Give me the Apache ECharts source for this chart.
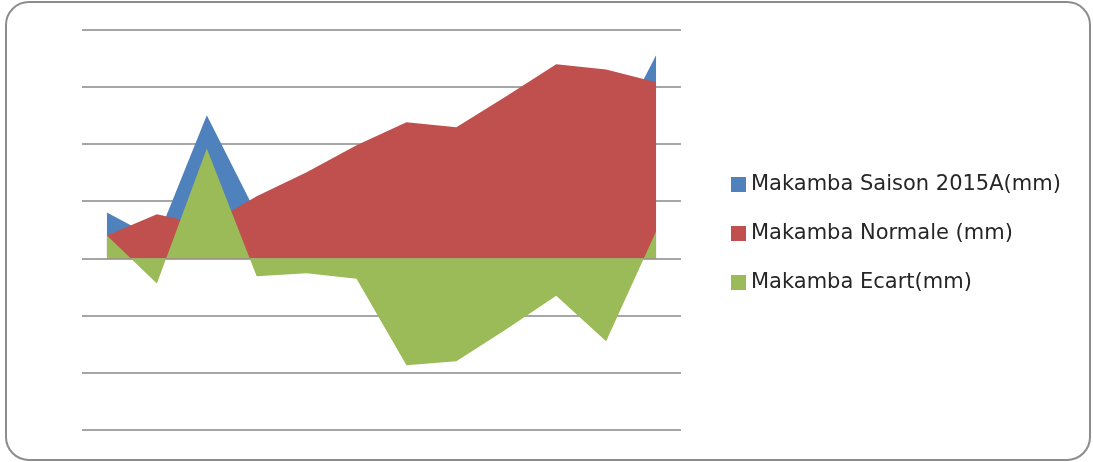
<!DOCTYPE html>
<html>
<head>
<meta charset="utf-8">
<script src="https://cdn.jsdelivr.net/npm/echarts@6/dist/echarts.min.js"></script>
<style>
  html, body { margin: 0; padding: 0; background: #fff; }
  #frame {
    position: absolute; left: 5px; top: 1px; width: 1082px; height: 456px;
    border: 2px solid #8c8c8c; border-radius: 24px; box-sizing: content-box;
  }
  #chart { position: absolute; left: 0; top: 0; width: 1093px; height: 462px; }
</style>
</head>
<body>
<div id="frame"></div>
<div id="chart"></div>
<script>
// 12 periodes (decades) de la saison 2015A
var periodes = ['1', '2', '3', '4', '5', '6', '7', '8', '9', '10', '11', '12'];
var saison2015A = [40, 16.6, 125, 38.5, 62, 81, 25.5, 24.5, 79.6, 137, 92.5, 177.5];
var normale = [20, 38.5, 29, 54.2, 75.2, 98.8, 119, 114.5, 141.6, 169.6, 165, 154];
var ecart = [20, -21.9, 96, -15.7, -13, -17.8, -93.5, -90, -62, -32.6, -72.5, 23.5];

var chart = echarts.init(document.getElementById('chart'));
var option = {
  animation: false,
  grid: { left: 82, right: 412, top: 29.5, bottom: 32 },
  legend: {
    orient: 'vertical',
    left: 726,
    top: 169,
    itemWidth: 15,
    itemHeight: 15,
    itemGap: 28,
    icon: 'rect',
    textStyle: { fontSize: 21, color: '#262626', fontFamily: 'DejaVu Sans' },
    data: ['Makamba Saison 2015A(mm)', 'Makamba Normale (mm)', 'Makamba Ecart(mm)']
  },
  xAxis: {
    type: 'category',
    data: periodes,
    boundaryGap: true,
    axisLine: { show: false },
    axisTick: { show: false },
    axisLabel: { show: false }
  },
  yAxis: {
    type: 'value',
    min: -150,
    max: 200,
    interval: 50,
    axisLine: { show: false },
    axisTick: { show: false },
    axisLabel: { show: false },
    splitLine: { lineStyle: { color: '#a6a6a6', width: 2 } }
  },
  series: [
    {
      name: 'Makamba Saison 2015A(mm)',
      type: 'line',
      z: 2,
      data: saison2015A,
      showSymbol: false,
      lineStyle: { width: 0, color: '#4f81bd' },
      itemStyle: { color: '#4f81bd' },
      areaStyle: { color: '#4f81bd', opacity: 1 }
    },
    {
      name: 'Makamba Normale (mm)',
      type: 'line',
      z: 3,
      data: normale,
      showSymbol: false,
      lineStyle: { width: 0, color: '#c0504d' },
      itemStyle: { color: '#c0504d' },
      areaStyle: { color: '#c0504d', opacity: 1 }
    },
    {
      name: 'Makamba Ecart(mm)',
      type: 'line',
      z: 4,
      data: ecart,
      showSymbol: false,
      lineStyle: { width: 0, color: '#9bbb59' },
      itemStyle: { color: '#9bbb59' },
      areaStyle: { color: '#9bbb59', opacity: 1 }
    }
  ]
};
chart.setOption(option);
</script>
</body>
</html>
